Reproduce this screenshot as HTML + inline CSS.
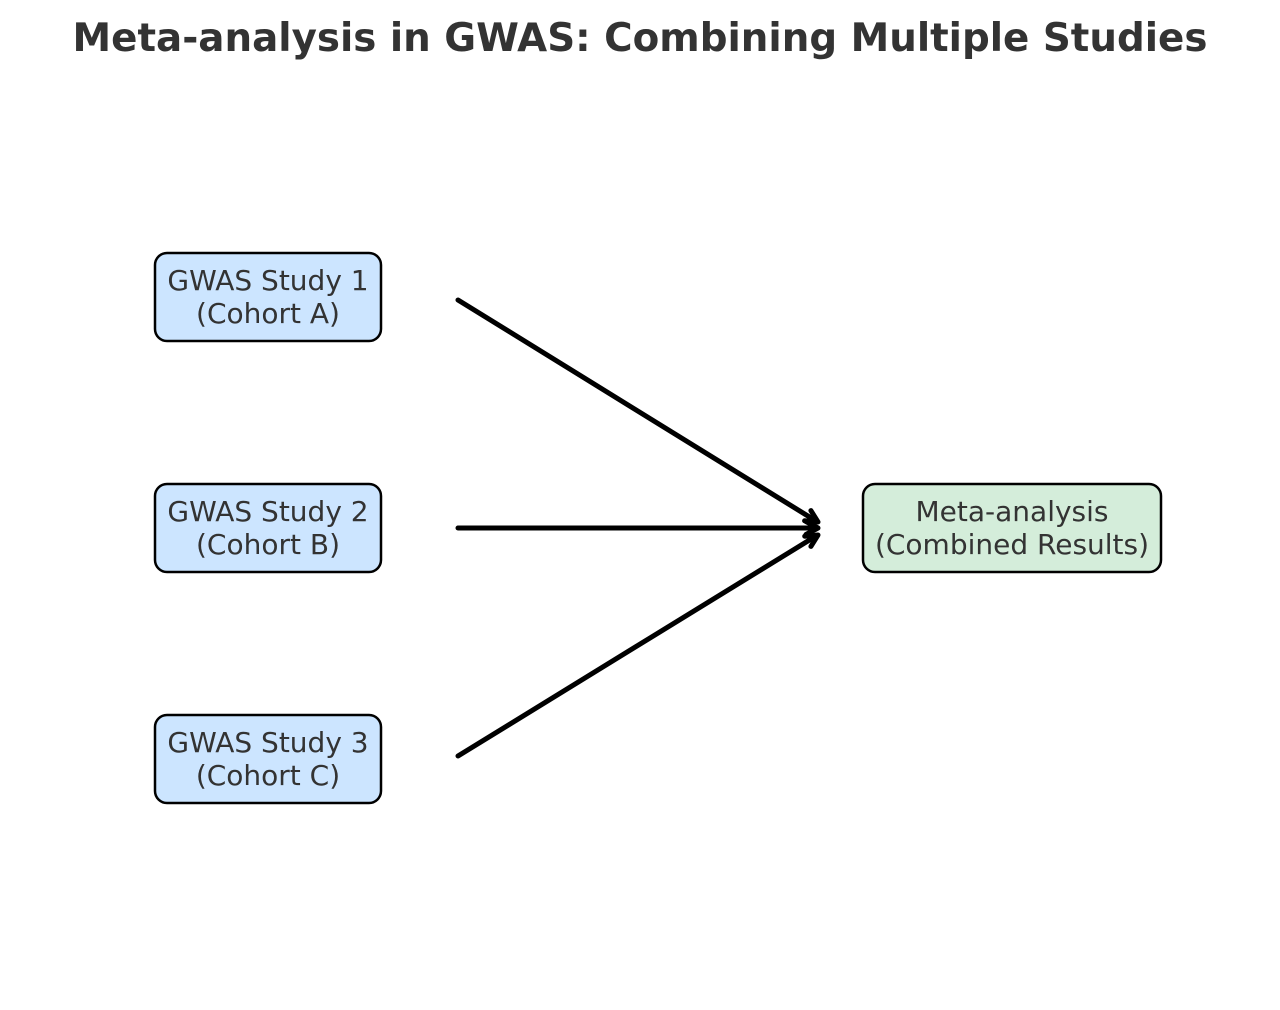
<!DOCTYPE html>
<html><head><meta charset="utf-8"><style>
html,body{margin:0;padding:0;background:#fff;}
svg{display:block;}
text{font-family:"DejaVu Sans","Liberation Sans",sans-serif;}
</style></head><body>
<svg width="1280" height="1010" viewBox="0 0 1280 1010" xmlns="http://www.w3.org/2000/svg">
<text x="640" y="51" text-anchor="middle" font-size="38.8" font-weight="bold" fill="#333">Meta-analysis in GWAS: Combining Multiple Studies</text>
<g stroke="#000" stroke-width="2.5">
<rect x="155" y="253" width="226" height="88" rx="12" fill="#cce5ff"/>
<rect x="155" y="484" width="226" height="88" rx="12" fill="#cce5ff"/>
<rect x="155" y="715" width="226" height="88" rx="12" fill="#cce5ff"/>
<rect x="863" y="484" width="298" height="88" rx="12" fill="#d4edda"/>
</g>
<g font-size="28" fill="#333" text-anchor="middle">
<text x="268" y="290">GWAS Study 1</text><text x="268" y="323">(Cohort A)</text>
<text x="268" y="521">GWAS Study 2</text><text x="268" y="554">(Cohort B)</text>
<text x="268" y="752">GWAS Study 3</text><text x="268" y="785">(Cohort C)</text>
<text x="1012" y="521">Meta-analysis</text><text x="1012" y="554">(Combined Results)</text>
</g>
<g stroke="#000" stroke-width="5" fill="none" stroke-linecap="round" stroke-linejoin="round">
<line x1="458" y1="300" x2="816" y2="521"/>
<polyline points="804.6,520.8 818,522 810.9,510.6"/>
<line x1="458" y1="528" x2="816" y2="528"/>
<polyline points="806,521.5 818,528 806,534.5"/>
<line x1="458" y1="756" x2="816" y2="536"/>
<polyline points="810.9,546.4 818,535 804.7,536.2"/>
</g>
</svg>
</body></html>
